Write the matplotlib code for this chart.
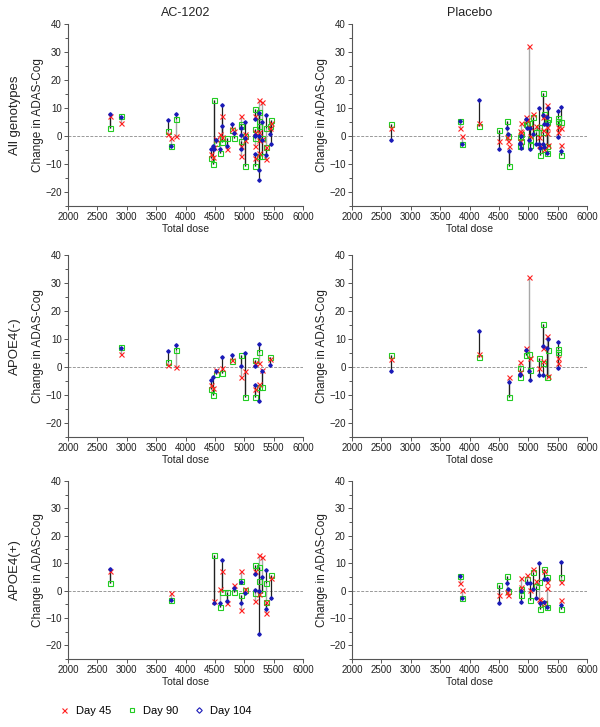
import numpy as np
import matplotlib
matplotlib.use("Agg")
import matplotlib.pyplot as plt
from matplotlib.lines import Line2D

plt.rcParams["font.family"] = ["Liberation Sans", "DejaVu Sans"]

# -- AC-1202, APOE4(-)
ac_neg_dose = [2900, 3710, 3830, 4430, 4465, 4520, 4620, 4790, 4950, 5005, 5185, 5180, 5250, 5245, 5305, 5430]
ac_neg_d45 = [4.7, 0.7, 0.0, -6.6, -7.6, -1.0, -0.5, 2.5, -3.5, -1.4, 1.6, -8.0, 1.3, -5.9, -1.0, 2.8]
ac_neg_d90 = [7.0, 1.9, 6.1, -8.0, -10.1, -2.5, -2.3, 2.3, 4.3, -10.8, 2.6, -10.7, 5.2, -7.3, -7.3, 3.7]
ac_neg_d104 = [6.9, 5.7, 7.8, -4.7, -3.7, -1.3, 3.4, 4.3, 0.4, 4.9, 0.5, -6.3, 8.3, -12.2, -1.3, 0.7]

# -- AC-1202, APOE4(+)
ac_pos_dose = [2715, 3750, 4490, 4590, 4620, 4705, 4820, 4945, 4950, 5005, 5185, 5190,
               5250, 5245, 5305, 5365, 5370, 5455]
ac_pos_d45 = [7.1, -0.8, -4.0, 0.6, 7.2, -4.7, 1.9, 7.3, -7.1, 0.7, 7.1, -3.7,
              13.0, -1.3, 12.2, -4.1, -8.1, 4.7]
ac_pos_d90 = [2.8, -3.5, 12.9, -6.1, -0.6, -0.6, -0.6, 3.5, -1.8, 0.1, 9.5, -0.8,
              3.5, 8.6, -0.8, 2.8, -4.1, 5.8]
ac_pos_d104 = [7.8, -3.5, -4.5, -4.5, 11.0, -3.7, 1.1, 3.0, -4.5, -0.8, 6.1, 0.1,
               -15.8, 0.0, 4.9, 7.6, -6.9, -2.9]

# -- Placebo, APOE4(-)
pl_neg_dose = [2670, 4170, 4680, 4860, 4865, 4960, 5015, 5030, 5190, 5250, 5255, 5325, 5330, 5500, 5505]
pl_neg_d45 = [2.8, 4.7, -3.5, 1.8, -1.7, 6.7, 32.3, 3.1, -0.5, 6.7, 2.0, 11.2, -3.3, 3.1, 1.5]
pl_neg_d90 = [4.3, 3.7, -10.8, -0.5, -3.5, 4.3, 4.7, -1.1, 3.1, 15.5, 1.3, -3.5, 6.0, 6.4, 5.5]
pl_neg_d104 = [-1.3, 12.8, -5.3, -2.9, -2.5, 5.9, -1.3, -4.5, -2.9, 7.6, -2.9, 6.7, 10.0, 8.8, -0.5]

# -- Placebo, APOE4(+)
pl_pos_dose = [3840, 3880, 4500, 4645, 4650, 4870, 4875, 4975, 5035, 5075, 5125, 5190,
               5195, 5260, 5265, 5320, 5325, 5555, 5560]
pl_pos_d45 = [2.8, 0.1, -1.7, -0.5, -1.7, 4.6, 1.3, 5.7, 0.1, 7.7, 3.4, -3.1,
              -3.5, 7.0, -4.5, 3.1, 1.0, 3.0, -3.3]
pl_pos_d90 = [5.2, -2.8, 2.0, 5.2, 0.0, -1.7, 0.6, 4.2, -3.3, 6.9, 1.5, 3.1,
              -6.9, 7.7, -4.5, 4.9, -6.1, 4.9, -6.7]
pl_pos_d104 = [5.2, -2.8, -4.7, 2.8, 0.7, -4.3, 0.0, 2.8, 2.8, 0.7, -2.9, 10.0,
               -4.4, 4.2, -4.1, 4.3, -6.1, 10.4, -5.3]

col_titles = ["AC-1202", "Placebo"]
row_titles = ["All genotypes", "APOE4(-)", "APOE4(+)"]

RED, GREEN, BLUE = "#ff2020", "#22cc22", "#1a1ab8"
AXCOL = "#555555"


def group(dose, d45, d90, d104):
    return [np.asarray(a, dtype=float) for a in (dose, d45, d90, d104)]


def merge(a, b):
    return [np.concatenate([x, y]) for x, y in zip(a, b)]


ac_neg = group(ac_neg_dose, ac_neg_d45, ac_neg_d90, ac_neg_d104)
ac_pos = group(ac_pos_dose, ac_pos_d45, ac_pos_d90, ac_pos_d104)
pl_neg = group(pl_neg_dose, pl_neg_d45, pl_neg_d90, pl_neg_d104)
pl_pos = group(pl_pos_dose, pl_pos_d45, pl_pos_d90, pl_pos_d104)

panels = [
    [merge(ac_neg, ac_pos), merge(pl_neg, pl_pos)],
    [ac_neg, pl_neg],
    [ac_pos, pl_pos],
]

fig = plt.figure(figsize=(6.0, 7.27), dpi=100)

W, H = 600, 727
col_x = [68, 352]
ax_w = 235
row_y = [(24, 206), (255, 437), (481, 659)]  # pixel top/bottom

for r in range(3):
    for c in range(2):
        top, bot = row_y[r]
        ax = fig.add_axes([col_x[c] / W, 1 - bot / H, ax_w / W, (bot - top) / H])
        dose, d45, d90, d104 = panels[r][c]

        ax.axhline(0, color="#999999", lw=0.7, ls=(0, (3, 1.5)), zorder=1)
        ax.vlines(dose, d45, d90, color="#a8a8a8", lw=1.0, zorder=2)
        ax.vlines(dose, d90, d104, color="#202020", lw=0.9, zorder=2)
        ax.plot(dose, d90, ls="none", marker="s", ms=3.6, mfc="none", mec=GREEN, mew=0.8, zorder=3)
        ax.plot(dose, d45, ls="none", marker="x", ms=3.6, color=RED, mew=0.8, zorder=4)
        ax.plot(dose, d104, ls="none", marker="D", ms=1.8, color=BLUE, zorder=5)

        ax.set_xlim(2000, 6000)
        ax.set_ylim(-25, 40)
        ax.set_xticks(np.arange(2000, 6001, 500))
        ax.set_yticks(np.arange(-20, 41, 10))
        ax.set_yticks(np.arange(-25, 41, 5), minor=True)
        for s in ["top", "right"]:
            ax.spines[s].set_visible(False)
        for s in ["left", "bottom"]:
            ax.spines[s].set_color(AXCOL)
            ax.spines[s].set_linewidth(0.8)
        ax.tick_params(which="both", colors=AXCOL, labelcolor="#222222", labelsize=7,
                       length=3, width=0.7, pad=1.5)
        ax.tick_params(which="minor", length=2)
        ax.set_xlabel("Total dose", fontsize=7.5, labelpad=1, color="#222222")
        ax.set_ylabel("Change in ADAS-Cog", fontsize=8.5, labelpad=1, color="#222222")

        if r == 0:
            ax.set_title(col_titles[c], fontsize=9, pad=6, color="#222222")
        if c == 0:
            cy = 1 - (top + bot) / 2 / H
            fig.text(15 / W, cy, row_titles[r], rotation=90, ha="center", va="center",
                     fontsize=9.5, color="#222222")

handles = [
    Line2D([], [], ls="none", marker="x", ms=3.6, color=RED, mew=0.8),
    Line2D([], [], ls="none", marker="s", ms=3.2, mfc="none", mec=GREEN, mew=0.8),
    Line2D([], [], ls="none", marker="D", ms=2.8, mfc="none", mec=BLUE, mew=0.8),
]
fig.legend(handles, ["Day 45", "Day 90", "Day 104"], loc="center left",
           bbox_to_anchor=(50 / W, 1 - 711 / H), ncol=3, frameon=False,
           fontsize=8, handlelength=0.8, handletextpad=0.6, columnspacing=1.5)

fig.savefig("out.png", dpi=100)
